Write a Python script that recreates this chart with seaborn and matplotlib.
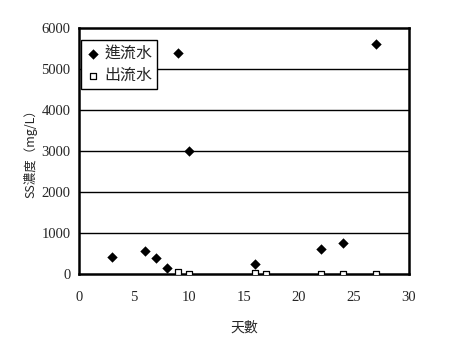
import matplotlib
matplotlib.use("Agg")
import matplotlib.pyplot as plt
import seaborn as sns
import pandas as pd

days_in = [3, 6, 7, 8, 9, 10, 16, 22, 24, 27]
ss_in = [415, 560, 390, 146, 5400, 3000, 244, 610, 756, 5600]
days_out = [9, 10, 16, 17, 22, 24, 27]
ss_out = [60, 10, 20, 10, 10, 10, 10]
series_names = ["進流水", "出流水"]
x_ticks = [0, 5, 10, 15, 20, 25, 30]
y_ticks = [0, 1000, 2000, 3000, 4000, 5000, 6000]

sns.set_style("white")
plt.rcParams['font.family'] = ['Noto Sans CJK TC', 'DejaVu Sans']

df_in = pd.DataFrame({"天數": days_in, "SS": ss_in})
df_out = pd.DataFrame({"天數": days_out, "SS": ss_out})

fig = plt.figure(figsize=(4.5, 3.53), dpi=100)
ax = fig.add_axes([79/450, 1-274/353, 330/450, 246/353])

for y in y_ticks[1:-1]:
    ax.axhline(y, color="black", lw=1.0, zorder=1)

sns.scatterplot(data=df_in, x="天數", y="SS", marker="D", s=28, color="black",
                edgecolor="black", linewidth=0, ax=ax, label=series_names[0], zorder=3)
sns.scatterplot(data=df_out, x="天數", y="SS", marker="s", s=22, facecolor="white",
                edgecolor="black", linewidth=0.9, ax=ax, label=series_names[1], zorder=3)

ax.set_xlim(0, 30)
ax.set_ylim(0, 6000)
ax.set_xticks(x_ticks)
ax.set_yticks(y_ticks)
ax.set_xticklabels([str(t) for t in x_ticks], family="Liberation Serif", fontsize=10.5)
ax.set_yticklabels([str(t) for t in y_ticks], family="Liberation Serif", fontsize=10.5)
ax.tick_params(axis="x", direction="in", length=4, width=1, color="black", pad=12)
ax.tick_params(axis="y", length=0, pad=6)
for sp in ax.spines.values():
    sp.set_color("black")
    sp.set_linewidth(1.8)
ax.set_xlabel("天數", fontsize=10, labelpad=12)
ax.set_ylabel("SS濃度（mg/L）", fontsize=9, labelpad=3)

leg = ax.legend(loc="upper left", bbox_to_anchor=(0.005, 0.95), fontsize=11.5, frameon=True,
                fancybox=False, edgecolor="black", handletextpad=0.2, borderpad=0.3,
                handlelength=1.0, labelspacing=0.3, borderaxespad=0)
leg.get_frame().set_linewidth(1.0)
leg.get_frame().set_alpha(1)

fig.savefig("out.png", dpi=100)
